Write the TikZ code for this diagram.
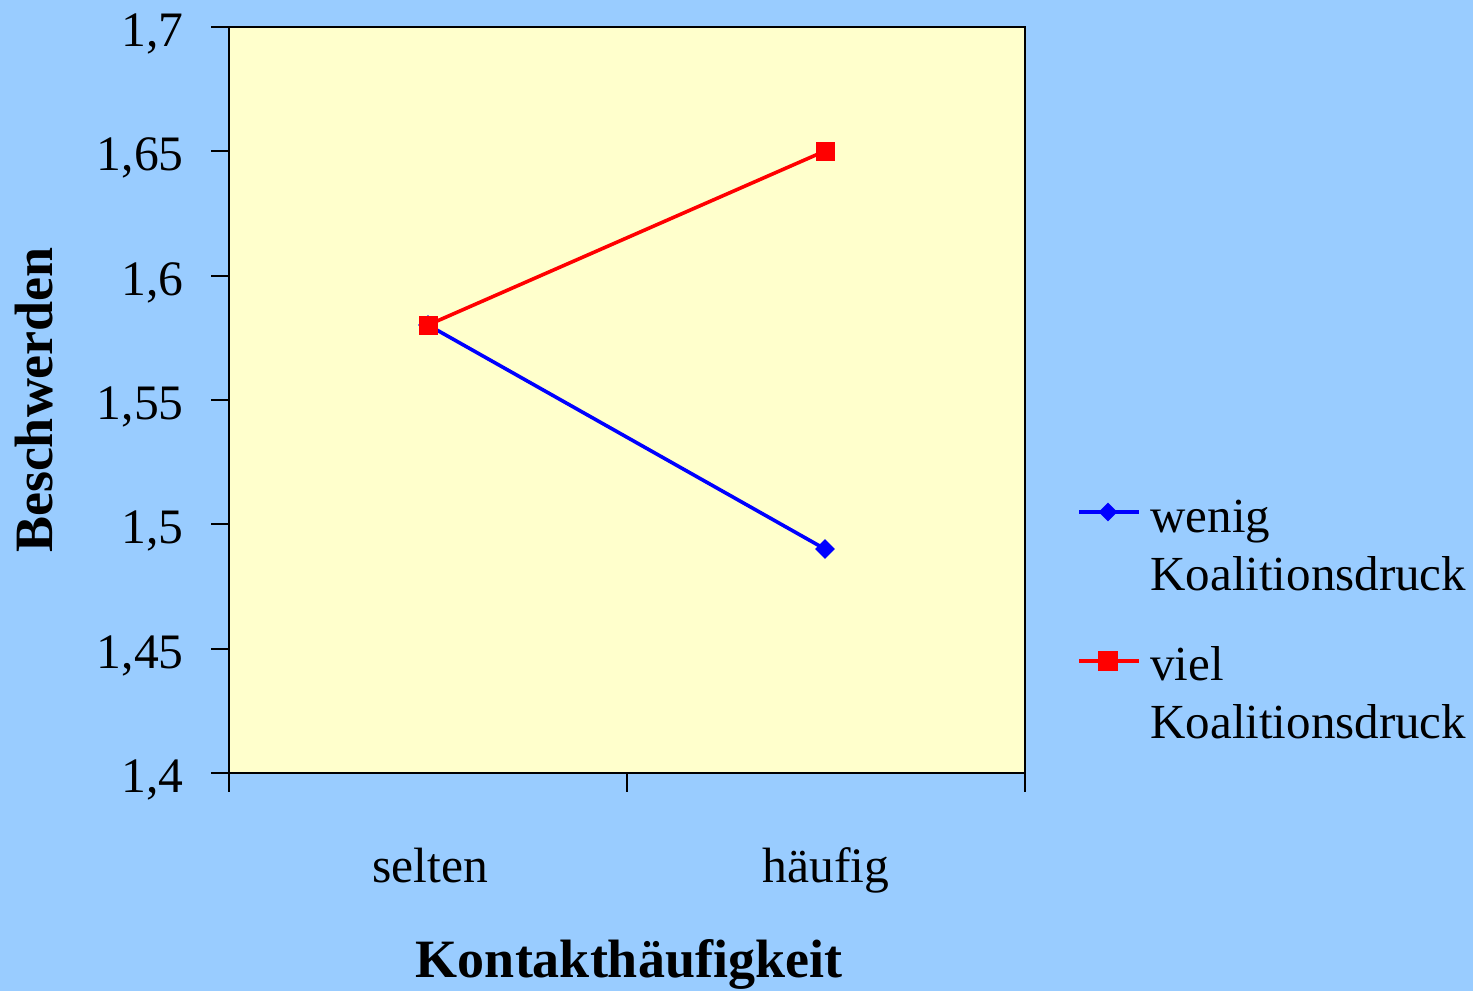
\documentclass[tikz,border=0pt]{standalone}
\usepackage{fontspec}
\setmainfont{Liberation Serif}
\usetikzlibrary{shapes.geometric}
\definecolor{bgblue}{HTML}{99CCFF}
\definecolor{plotbg}{HTML}{FFFFCC}
\definecolor{serblue}{HTML}{0000FF}
\definecolor{serred}{HTML}{FF0000}
\begin{document}
\begin{tikzpicture}[x=0.5pt,y=-0.5pt,
  ticklabel/.style={font=\fontsize{24.8}{29}\selectfont,anchor=base east,inner sep=0pt},
  catlabel/.style={font=\fontsize{24.8}{29}\selectfont,anchor=base,inner sep=0pt},
  axtitle/.style={font=\bfseries\fontsize{27}{32}\selectfont,anchor=base,inner sep=0pt},
  legtext/.style={font=\fontsize{24.5}{29}\selectfont,anchor=base west,inner sep=0pt},
  sqmark/.style={rectangle,fill=serred,minimum size=9.5pt,inner sep=0pt},
  dmmark/.style={diamond,aspect=1,fill=serblue,minimum size=10pt,inner sep=0pt},
  bluel/.style={draw=serblue,line width=1.8pt},
  redl/.style={draw=serred,line width=1.8pt},
  tickl/.style={draw=black,line width=0.6pt}]
\useasboundingbox (0,0) rectangle (1473,991);
\fill[bgblue] (0,0) rectangle (1473,991);
% plot area
\fill[plotbg] (229,27) rectangle (1025,773);
% y ticks and labels
\foreach \yy/\lab in {27/{1,7},151/{1,65},276/{1,6},400/{1,55},524/{1,5},649/{1,45},773/{1,4}}{
  \draw[tickl] (211,\yy) -- (229,\yy);
  \node[ticklabel] at (184,\yy+19) {\lab};
}
% x ticks
\foreach \xx in {229,627,1025}{
  \draw[tickl] (\xx,773) -- (\xx,792);
}
\draw[black,line width=1pt] (229,27) rectangle (1025,773);
% category labels
\node[catlabel] (selten) at (430,882) {selten};
\node[catlabel] (haeufig) at (826,882) {häufig};
% axis titles
\node[axtitle] (xtitle) at (629,977) {Kontakthäufigkeit};
\node[axtitle,rotate=90] (ytitle) at (53,400) {Beschwerden};
% data points
\coordinate (b1) at (428,325);
\coordinate (b2) at (825,549);
\coordinate (r1) at (428,325);
\coordinate (r2) at (825,151);
\draw[bluel] (b1) -- (b2);
\node[dmmark] (bm1) at (b1) {};
\node[dmmark] (bm2) at (b2) {};
\draw[redl] (r1) -- (r2);
\node[sqmark] (rm1) at (r1) {};
\node[sqmark] (rm2) at (r2) {};
% legend
\coordinate (lb1) at (1079,512);
\coordinate (lb2) at (1139,512);
\draw[bluel] (lb1) -- (lb2);
\node[dmmark,minimum size=9.5pt] (lbm) at (1108,512) {};
\node[legtext] (lbt1) at (1150,532) {wenig};
\node[legtext] (lbt2) at (1150,590) {Koalitionsdruck};
\coordinate (lr1) at (1079,661);
\coordinate (lr2) at (1139,661);
\draw[redl] (lr1) -- (lr2);
\node[sqmark,minimum size=10pt] (lrm) at (1108,661) {};
\node[legtext] (lrt1) at (1150,680) {viel};
\node[legtext] (lrt2) at (1150,738) {Koalitionsdruck};
\end{tikzpicture}
\end{document}
